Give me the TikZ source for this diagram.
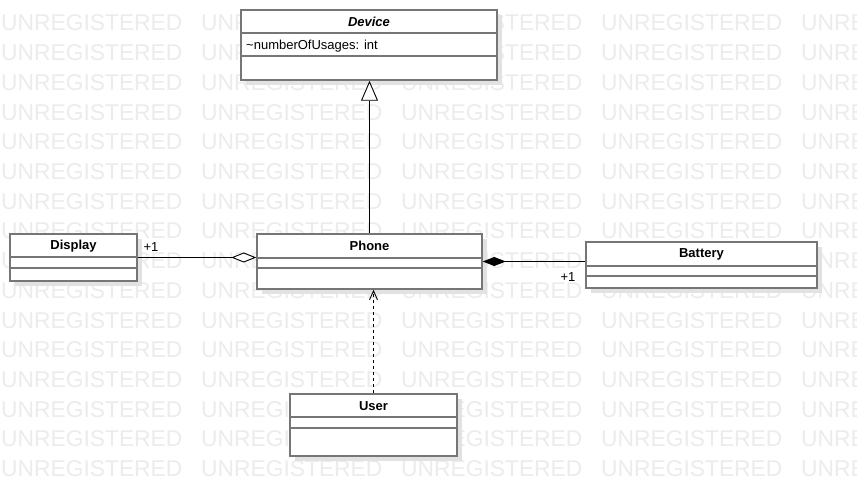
\documentclass[tikz,border=0pt]{standalone}
\usepackage{fontspec}
\setmainfont{Liberation Sans}
\usetikzlibrary{arrows.meta,shadows}

\definecolor{boxgray}{RGB}{118,118,118}
\definecolor{markgray}{RGB}{236,236,236}
\definecolor{shadegray}{RGB}{226,226,226}

\tikzset{
  umlbox/.style={draw=boxgray, fill=white, line width=1.5pt, inner sep=0pt,
    drop shadow={shadow xshift=5pt, shadow yshift=-5pt, fill=shadegray, opacity=1}},
  divider/.style={draw=boxgray, line width=1.6pt},
  classname/.style={font=\fontsize{13}{15}\selectfont\bfseries, inner sep=0pt},
  member/.style={font=\fontsize{13}{15}\selectfont, inner sep=0pt, anchor=base west},
  mult/.style={font=\fontsize{13}{15}\selectfont, inner sep=0pt},
  watermark/.style={font=\fontsize{22.8}{24}\selectfont, text=markgray, inner sep=0pt, anchor=base west},
  assoc/.style={draw=black, line width=0.9pt},
}

\begin{document}
\begin{tikzpicture}[x=1pt, y=-1pt]
    \fill[white] (0,0) rectangle (857,497);
    \useasboundingbox (0,0) rectangle (857,497);
    % watermark
    \foreach \row in {0,...,15} {
      \foreach \col in {0,...,4} {
        \node[watermark] (mark-\row-\col) at ({1+200*\col},{31+29.7*\row}) {UNREGISTERED};
      }
    }
    % classes
    \node[umlbox, minimum width=256pt, minimum height=70pt] (device) at (369,45) {};
    \draw[divider] ([yshift=-24pt]device.north west) -- ([yshift=-24pt]device.north east);
    \draw[divider] ([yshift=-47pt]device.north west) -- ([yshift=-47pt]device.north east);
    \node[classname, font=\fontsize{13}{15}\selectfont\bfseries\itshape] (device-name) at (369,22) {Device};
    \node[member] (device-attr) at (246,50) {\textasciitilde numberOfUsages: int};

    \node[umlbox, minimum width=127pt, minimum height=47pt] (display) at (73.5,257.5) {};
    \draw[divider] ([yshift=-24pt]display.north west) -- ([yshift=-24pt]display.north east);
    \draw[divider] ([yshift=-35pt]display.north west) -- ([yshift=-35pt]display.north east);
    \node[classname] (display-name) at (73.5,246) {Display};

    \node[umlbox, minimum width=225pt, minimum height=55pt] (phone) at (369.5,261.5) {};
    \draw[divider] ([yshift=-24.5pt]phone.north west) -- ([yshift=-24.5pt]phone.north east);
    \draw[divider] ([yshift=-35pt]phone.north west) -- ([yshift=-35pt]phone.north east);
    \node[classname] (phone-name) at (369.5,246) {Phone};

    \node[umlbox, minimum width=231pt, minimum height=46pt] (battery) at (701.5,265) {};
    \draw[divider] ([yshift=-24.5pt]battery.north west) -- ([yshift=-24.5pt]battery.north east);
    \draw[divider] ([yshift=-35pt]battery.north west) -- ([yshift=-35pt]battery.north east);
    \node[classname] (battery-name) at (701.5,254) {Battery};

    \node[umlbox, minimum width=167pt, minimum height=62pt] (user) at (373.5,425) {};
    \draw[divider] ([yshift=-24pt]user.north west) -- ([yshift=-24pt]user.north east);
    \draw[divider] ([yshift=-35pt]user.north west) -- ([yshift=-35pt]user.north east);
    \node[classname] (user-name) at (373.5,406) {User};

    % relations
    \draw[assoc, -{Triangle[fill=white, length=20pt, width=17pt]}] (phone.north) -- (phone.north |- device.south);
    \draw[assoc, -{Diamond[fill=white, length=25pt, width=10pt]}] (display.east) -- (display.east -| phone.west);
    \draw[assoc, {Diamond[length=23pt, width=9pt]}-] (phone.east) -- (phone.east -| battery.west);
    \draw[assoc, dash pattern=on 3pt off 3pt, -{Straight Barb[length=9pt, width=8pt]}] (user.north) -- (user.north |- phone.south);
    \node[mult] (mult-display) at (151,247) {+1};
    \node[mult] (mult-battery) at (568,277) {+1};
\end{tikzpicture}
\end{document}
